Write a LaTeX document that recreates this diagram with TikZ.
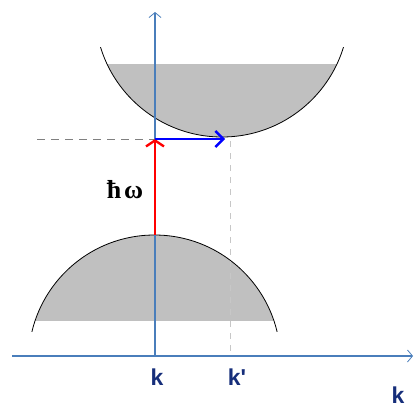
\documentclass[tikz,border=0pt]{standalone}
\usepackage{fontspec}
\setmainfont{Liberation Sans}
\newfontfamily\hbarfont{Liberation Serif}
\usetikzlibrary{arrows.meta}
\definecolor{axisblue}{RGB}{74,126,187}
\definecolor{labelblue}{RGB}{22,46,122}
\definecolor{bandgray}{RGB}{192,192,192}
\tikzset{
  axis/.style={axisblue, line width=1.4pt, -{Straight Barb[length=5pt, width=12pt, line width=0.8pt]}},
  band/.style={black, line width=0.8pt},
  photon/.style={red, line width=2.4pt, -{Straight Barb[length=6pt, width=18pt]}},
  phonon/.style={blue, line width=2.4pt, -{Straight Barb[length=8pt, width=16pt]}},
  guide/.style={gray, line width=1pt, dash pattern=on 8pt off 6pt},
  guidev/.style={black!22, line width=1pt, dash pattern=on 6pt off 6pt},
  klabel/.style={labelblue, font=\fontsize{23}{23}\selectfont\bfseries, inner sep=0pt}
}
\begin{document}
\begin{tikzpicture}[x=1pt, y=-1pt]
            \useasboundingbox (0,0) rectangle (414,407);
            \coordinate (O) at (155,356);
            \coordinate (Xend) at (413,356);
            \coordinate (Xstart) at (12,356);
            \coordinate (Yend) at (155,12);
            \coordinate (Ccen) at (222,10);
            \coordinate (Vcen) at (154.5,361);
            \coordinate (Vtop) at (155,235);
            \coordinate (G) at (155,139);
            \coordinate (Cmin) at (225,139);
            \coordinate (Kp) at (230,356);
            \coordinate (Kpt) at (230,141);
            \coordinate (L) at (37,139);

            \begin{scope}
              \clip (0,64) rectangle (414,200);
              \fill[bandgray] (Ccen) circle (127);
            \end{scope}
            \begin{scope}
              \clip (0,47) rectangle (414,200);
              \draw[band] (Ccen) circle (127);
            \end{scope}
            \begin{scope}
              \clip (0,200) rectangle (414,320);
              \fill[bandgray] (Vcen) circle (126);
            \end{scope}
            \begin{scope}
              \clip (0,200) rectangle (414,331);
              \draw[band] (Vcen) circle (126);
            \end{scope}

            \draw[guide] (L) -- (G);
            \draw[guidev] (Kpt) -- (Kp);
            \draw[axis] (Xstart) -- (Xend);
            \draw[axis] (O) -- (Yend);
            \draw[photon] (Vtop) -- (G);
            \draw[phonon] (G) -- (Cmin);

            \node[font=\hbarfont\fontsize{26}{26}\selectfont\bfseries, inner sep=0pt] (hw) at (125,190) {ħ\kern3pt ω};
            \node[klabel] (k) at (157,377) {k};
            \node[klabel] (kp) at (237,377) {k\textquotesingle};
            \node[klabel] (kaxis) at (398,395) {k};
        \end{tikzpicture}
\end{document}
